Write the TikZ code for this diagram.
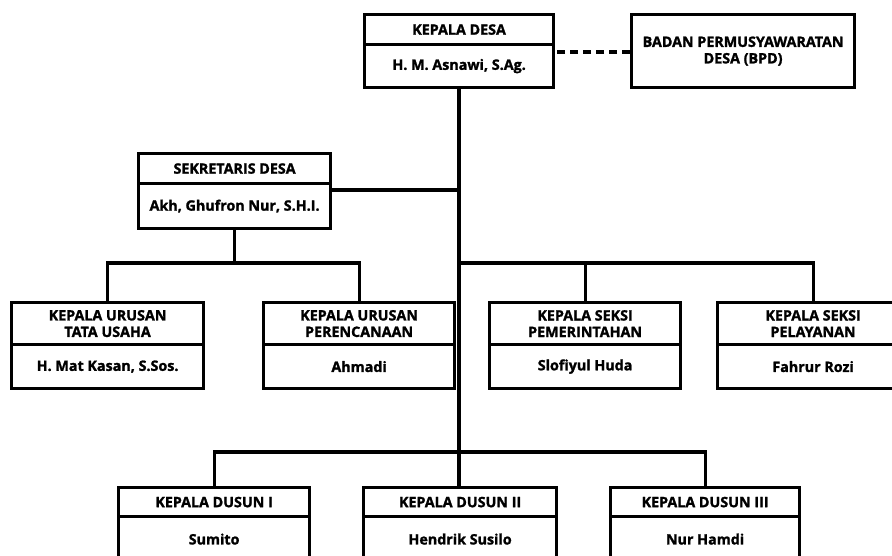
\documentclass[tikz,border=0pt]{standalone}
\usepackage{fontspec}
\setmainfont{Open Sans}[BoldFeatures={FakeBold=1.5}]
\begin{document}
\begin{tikzpicture}[x=1pt,y=-1pt,
  box/.style={draw, line width=3.2pt, inner sep=0pt, anchor=north west, align=center,
    font=\fontsize{14.3}{16.5}\selectfont\bfseries},
  con/.style={line width=3.2pt},
  dcon/.style={line width=3.2pt, dash pattern=on 8pt off 5pt}]
\useasboundingbox (0,0) rectangle (892,556);
\clip (0,0) rectangle (892,556);
% Kepala Desa
\node[box, minimum width=189pt, minimum height=30pt] (kdh) at (363,13) {KEPALA DESA};
\node[box, minimum width=189pt, minimum height=43pt] (kdn) at (363,43) {H. M. Asnawi, S.Ag.};
% BPD
\node[box, minimum width=223pt, minimum height=73pt] (bpd) at (630,13) {BADAN PERMUSYAWARATAN\\DESA (BPD)};
% Sekretaris
\node[box, minimum width=192pt, minimum height=30pt] (sdh) at (137,152) {SEKRETARIS DESA};
\node[box, minimum width=192pt, minimum height=45pt] (sdn) at (137,182) {Akh, Ghufron Nur, S.H.I.};
% Kaur / Kasi
\node[box, minimum width=192pt, minimum height=42pt] (k1h) at (10,301) {KEPALA URUSAN\\TATA USAHA};
\node[box, minimum width=192pt, minimum height=44pt] (k1n) at (10,343) {H. Mat Kasan, S.Sos.};
\node[box, minimum width=191pt, minimum height=42pt] (k2h) at (262,301) {KEPALA URUSAN\\PERENCANAAN};
\node[box, minimum width=191pt, minimum height=44pt] (k2n) at (262,343) {Ahmadi};
\node[box, minimum width=191pt, minimum height=42pt] (k3h) at (488,301) {KEPALA SEKSI\\PEMERINTAHAN};
\node[box, minimum width=191pt, minimum height=44pt] (k3n) at (488,343) {Slofiyul Huda};
\node[box, minimum width=191pt, minimum height=42pt] (k4h) at (716,301) {KEPALA SEKSI\\PELAYANAN};
\node[box, minimum width=191pt, minimum height=44pt] (k4n) at (716,343) {Fahrur Rozi};
% Dusun
\node[box, minimum width=191pt, minimum height=29pt] (d1h) at (117,486) {KEPALA DUSUN I};
\node[box, minimum width=191pt, minimum height=45pt] (d1n) at (117,515) {Sumito};
\node[box, minimum width=193pt, minimum height=29pt] (d2h) at (362,486) {KEPALA DUSUN II};
\node[box, minimum width=193pt, minimum height=45pt] (d2n) at (362,515) {Hendrik Susilo};
\node[box, minimum width=189pt, minimum height=29pt] (d3h) at (609,486) {KEPALA DUSUN III};
\node[box, minimum width=189pt, minimum height=45pt] (d3n) at (609,515) {Nur Hamdi};
% connectors
\coordinate (spine) at (459,86);
\coordinate (bus1) at (459,263);
\coordinate (bus2) at (459,452);
\draw[dcon] (bpd.west |- 0,52) -- (kdn.east |- 0,52);
\draw[con] (kdn.south -| spine) -- (bus2);
\draw[con] ([yshift=-8pt]sdn.north east) coordinate (s1) -- (s1 -| spine);
\draw[con] (sdn.south) -- (sdn.south |- bus1);
\draw[con] (k1h.north) -- (k1h.north |- bus1) -- (k2h.north |- bus1) -- (k2h.north);
\draw[con] (bus1) -- (k3h.north |- bus1) -- (k3h.north);
\draw[con] (k3h.north |- bus1) -- (k4h.north |- bus1) -- (k4h.north);
\draw[con] (d1h.north) -- (d1h.north |- bus2) -- (d3h.north |- bus2) -- (d3h.north);
\draw[con] (bus2) -- (d2h.north -| bus2);
\end{tikzpicture}
\end{document}
